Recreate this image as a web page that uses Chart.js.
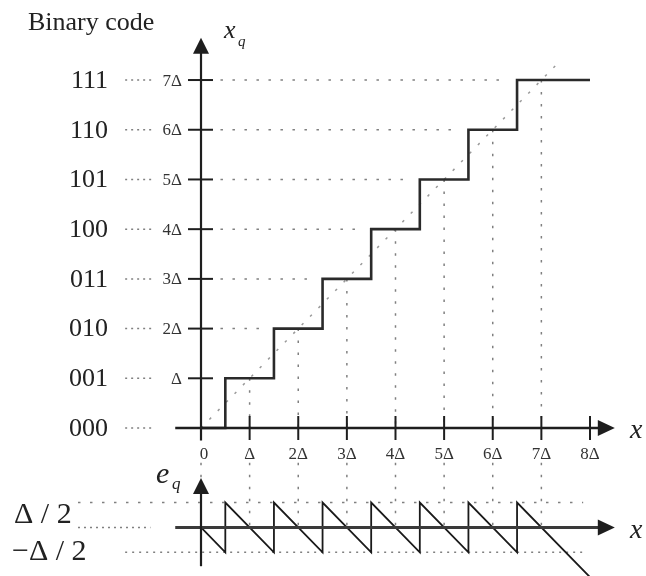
<!DOCTYPE html>
<html><head><meta charset="utf-8">
<script src="https://cdn.jsdelivr.net/npm/chart.js@4.4.0/dist/chart.umd.min.js"></script>
<style>html,body{margin:0;padding:0;background:#fff}#wrap{width:646px;height:576px;position:relative}</style>
</head><body><div id="wrap"><canvas id="c"></canvas></div>
<script>
// ---- data (units of Δ) ----
const levels = [0, 1, 2, 3, 4, 5, 6, 7];
const binaryCodes = ['000', '001', '010', '011', '100', '101', '110', '111'];
const yTickLabels = ['', 'Δ', '2Δ', '3Δ', '4Δ', '5Δ', '6Δ', '7Δ'];
const xTicks = [0, 1, 2, 3, 4, 5, 6, 7, 8];
const xTickLabels = ['0', 'Δ', '2Δ', '3Δ', '4Δ', '5Δ', '6Δ', '7Δ', '8Δ'];
const stairX = [0, 1, 2, 3, 4, 5, 6, 7, 8];
const stairY = [0, 1, 2, 3, 4, 5, 6, 7, 7];
const diagX = [0, 7.4];
const diagY = [0, 7.4];
const sawX = [0, 0.5, 0.5, 1.5, 1.5, 2.5, 2.5, 3.5, 3.5, 4.5, 4.5, 5.5, 5.5, 6.5, 6.5, 8];
const sawE = [0, -0.5, 0.5, -0.5, 0.5, -0.5, 0.5, -0.5, 0.5, -0.5, 0.5, -0.5, 0.5, -0.5, 0.5, -1];
const eLevels = [0.5, 0, -0.5];
const eLabels = ['Δ / 2', '', '−Δ / 2'];

// ---- scale ranges ----
const X_MIN = -4.134, X_MAX = 9.152;
const Y_MIN = -2.977, Y_MAX = 8.61;
const E_OFFSET = 2; // error plot sits 2Δ below the top plot origin

const DOT = '#808080';
const datasets = [];
function seg(pts, opts, axis) {
  datasets.push(Object.assign({
    data: pts, showLine: true, pointRadius: 0, borderWidth: 1.5,
    borderColor: DOT, borderDash: [2.5, 9.5], fill: false,
    yAxisID: axis || 'y', order: 5
  }, opts || {}));
}
// diagonal x_q = x
seg(diagX.map((x, i) => ({x, y: diagY[i]})), {borderColor: '#9a9a9a'});
// horizontal dotted guides
levels.forEach(k => {
  seg([{x: -1.56, y: k}, {x: -1.0, y: k}], {borderDash: [2, 4]});
  if (k >= 2) seg([{x: 0.4, y: k}, {x: k - 0.7, y: k}]);
});
// vertical dotted guides
levels.forEach(k => {
  if (k >= 1) seg([{x: k, y: k}, {x: k, y: 0}]);
  seg([{x: k, y: -0.7}, {x: k, y: k === 0 ? -1.0 : -2}]);
});
// error-plot dotted levels
seg([{x: -2.53, y: eLevels[0]}, {x: 7.86, y: eLevels[0]}], {}, 'ye');
seg([{x: -2.53, y: eLevels[1]}, {x: -1.04, y: eLevels[1]}], {borderDash: [2, 4]}, 'ye');
seg([{x: -1.56, y: eLevels[2]}, {x: 7.94, y: eLevels[2]}], {borderDash: [2, 5]}, 'ye');
// staircase
datasets.push({
  data: stairX.map((x, i) => ({x, y: stairY[i]})), showLine: true, stepped: 'middle',
  pointRadius: 0, borderWidth: 2.6, borderColor: '#2a2a2a', yAxisID: 'y', order: 1
});
// sawtooth error
datasets.push({
  data: sawX.map((x, i) => ({x, y: sawE[i]})), showLine: true,
  pointRadius: 0, borderWidth: 1.8, borderColor: '#1a1a1a', yAxisID: 'ye', order: 1
});

const serif = '"Liberation Serif", "DejaVu Serif", serif';
const decor = {
  id: 'decor',
  afterDatasetsDraw(chart) {
    const ctx = chart.ctx, sx = chart.scales.x, sy = chart.scales.y, se = chart.scales.ye;
    const X = v => sx.getPixelForValue(v), Y = v => sy.getPixelForValue(v), E = v => se.getPixelForValue(v);
    ctx.save();
    ctx.strokeStyle = '#1e1e1e'; ctx.fillStyle = '#1e1e1e'; ctx.lineCap = 'butt';
    function line(x1, y1, x2, y2, w, c) {
      ctx.beginPath(); ctx.lineWidth = w; ctx.strokeStyle = c || '#1e1e1e';
      ctx.moveTo(x1, y1); ctx.lineTo(x2, y2); ctx.stroke();
    }
    function tri(pts) {
      ctx.beginPath(); ctx.moveTo(pts[0][0], pts[0][1]);
      ctx.lineTo(pts[1][0], pts[1][1]); ctx.lineTo(pts[2][0], pts[2][1]); ctx.closePath(); ctx.fill();
    }
    // top x axis
    const y0 = Y(0), x0 = X(0);
    line(X(-0.53), y0, X(8.2), y0, 2.6);
    const tipX = X(8.51);
    tri([[tipX, y0], [tipX - 17, y0 - 8], [tipX - 17, y0 + 8]]);
    // top y axis
    const tipY = Y(7.85);
    line(x0, Y(-0.25), x0, tipY + 10, 2.2);
    tri([[x0, tipY], [x0 - 8, tipY + 16], [x0 + 8, tipY + 16]]);
    // ticks
    xTicks.forEach(k => { if (k > 0) line(X(k), y0 - 12, X(k), y0 + 12, 2); });
    levels.forEach(k => { if (k > 0) line(x0 - 13, Y(k), x0 + 12, Y(k), 2); });
    // error axes
    const e0 = E(0);
    line(X(-0.53), e0, X(8.2), e0, 3, '#3a3a3a');
    tri([[tipX, e0], [tipX - 17, e0 - 8], [tipX - 17, e0 + 8]]);
    const eTip = E(0.994);
    line(x0, E(-0.78), x0, eTip + 10, 2.2);
    tri([[x0, eTip], [x0 - 8, eTip + 16], [x0 + 8, eTip + 16]]);

    // texts
    ctx.fillStyle = '#222';
    ctx.textBaseline = 'middle'; ctx.textAlign = 'left';
    ctx.font = '26px ' + serif;
    ctx.fillText('Binary code', 28, 23);
    ctx.textAlign = 'right';
    ctx.font = '26px ' + serif;
    levels.forEach((k, i) => ctx.fillText(binaryCodes[i], 108, Y(k) + 1));
    ctx.font = '17px ' + serif; ctx.fillStyle = '#333';
    levels.forEach((k, i) => { if (yTickLabels[i]) ctx.fillText(yTickLabels[i], x0 - 19, Y(k) + 1); });
    ctx.textAlign = 'center';
    xTicks.forEach((k, i) => ctx.fillText(xTickLabels[i], X(k) + (k === 0 ? 3 : 0), y0 + 27));
    // axis names
    ctx.fillStyle = '#222';
    ctx.textBaseline = 'alphabetic'; ctx.textAlign = 'left';
    ctx.font = 'italic 28px ' + serif;
    ctx.fillText('x', 630, y0 + 10);
    ctx.fillText('x', 630, e0 + 11);
    ctx.font = 'italic 26px ' + serif;
    ctx.fillText('x', 224, 38);
    ctx.font = 'italic 15px ' + serif;
    ctx.fillText('q', 238, 46);
    ctx.font = 'italic 30px ' + serif;
    ctx.fillText('e', 156, 483);
    ctx.font = 'italic 17px ' + serif;
    ctx.fillText('q', 172, 489);
    ctx.font = '30px ' + serif;
    ctx.fillText(eLabels[0], 14, E(eLevels[0]) + 20);
    ctx.fillText(eLabels[2], 12, E(eLevels[2]) + 8);
    ctx.restore();
  }
};

new Chart(document.getElementById('c'), {
  type: 'scatter',
  data: {datasets},
  options: {
    responsive: true, maintainAspectRatio: false, animation: false,
    layout: {padding: 0},
    plugins: {legend: {display: false}, tooltip: {enabled: false}, title: {display: false}},
    scales: {
      x: {type: 'linear', display: false, min: X_MIN, max: X_MAX},
      y: {type: 'linear', display: false, min: Y_MIN, max: Y_MAX},
      ye: {type: 'linear', display: false, min: Y_MIN + E_OFFSET, max: Y_MAX + E_OFFSET}
    }
  },
  plugins: [decor]
});
</script></body></html>
